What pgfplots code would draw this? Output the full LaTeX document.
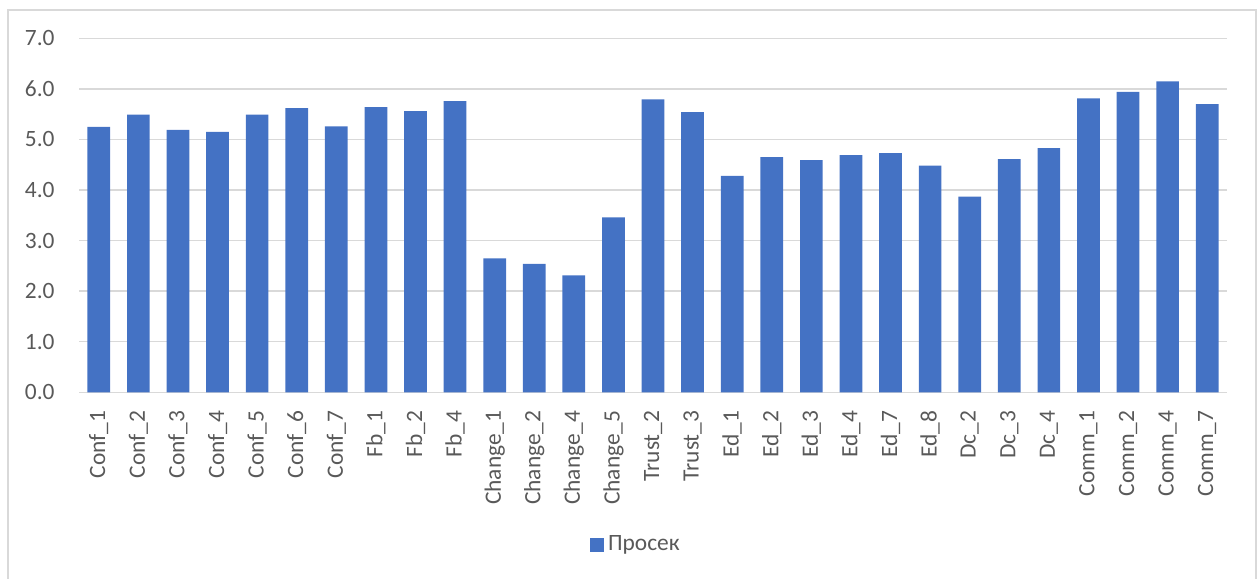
\documentclass[border=0pt]{standalone}
\usepackage{pgfplots}
\pgfplotsset{compat=1.18}
\usepackage{fontspec}
\setmainfont{Carlito}
\definecolor{barblue}{HTML}{4472C4}
\definecolor{gridgray}{HTML}{D9D9D9}
\definecolor{textgray}{HTML}{595959}
\begin{document}
\begin{tikzpicture}
% page: 1 px = 0.5 pt
\useasboundingbox (0,0) rectangle (628.5pt,-289pt);
\draw[gridgray, line width=0.75pt] (4pt,-290pt) -- (4pt,-5pt) -- (628pt,-5pt) -- (628pt,-290pt);
\begin{axis}[
  at={(39.5pt,-196.15pt)}, anchor=south west,
  scale only axis,
  width=574pt, height=177pt,
  ybar, bar width=11.35pt,
  ymin=0, ymax=7, ytick={0,1,...,7},
  xmin=-0.5, xmax=28.5,
  xtick=data,
  xticklabels={Conf\_1,Conf\_2,Conf\_3,Conf\_4,Conf\_5,Conf\_6,Conf\_7,Fb\_1,Fb\_2,Fb\_4,Change\_1,Change\_2,Change\_4,Change\_5,Trust\_2,Trust\_3,Ed\_1,Ed\_2,Ed\_3,Ed\_4,Ed\_7,Ed\_8,Dc\_2,Dc\_3,Dc\_4,Comm\_1,Comm\_2,Comm\_4,Comm\_7},
  major tick length=0pt,
  axis line style={draw=none},
  axis x line*=bottom,
  ymajorgrids, grid style={gridgray, line width=0.75pt},
  yticklabel={\pgfmathprintnumber[fixed,fixed zerofill,precision=1]{\tick}},
  /pgf/number format/assume math mode=true,
  tick label style={font=\fontsize{11.7}{14}\selectfont, text=textgray},
  yticklabel style={anchor=east, inner sep=0pt},
  yticklabel shift=12pt,
  xticklabel style={rotate=90, anchor=east, inner sep=0pt},
  xticklabel shift=9pt,
  legend style={at={(0.486,-0.431)}, anchor=center, draw=none, fill=none,
    font=\fontsize{11.7}{14}\selectfont, text=textgray,
    /tikz/every even column/.append style={column sep=0pt}},
  legend image code/.code={\fill[barblue] (0pt,-3.5pt) rectangle (7pt,3.5pt);},
  clip=false,
]
\draw[gridgray, line width=0.75pt] (axis cs:-0.5,0) -- (axis cs:28.5,0);
\addplot[fill=barblue, draw=none] coordinates {
  (0,5.25) (1,5.49) (2,5.19) (3,5.15) (4,5.49) (5,5.62) (6,5.26)
  (7,5.64) (8,5.56) (9,5.76)
  (10,2.65) (11,2.54) (12,2.31) (13,3.46)
  (14,5.79) (15,5.54)
  (16,4.28) (17,4.65) (18,4.59) (19,4.69) (20,4.73) (21,4.48)
  (22,3.87) (23,4.61) (24,4.83)
  (25,5.81) (26,5.94) (27,6.15) (28,5.70)
};
\addlegendentry{Просек}
\end{axis}
\end{tikzpicture}
\end{document}
